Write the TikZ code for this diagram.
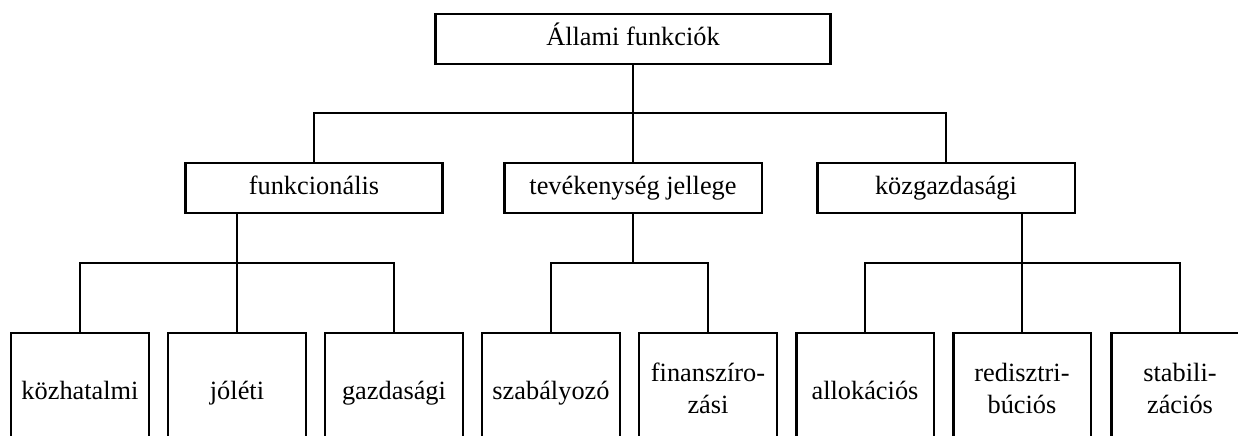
\documentclass[tikz,border=0pt]{standalone}
\usepackage{fontspec}
\setmainfont{Liberation Serif}
\usepackage{tikz}
\usetikzlibrary{positioning}

\begin{document}
\begin{tikzpicture}[x=0.02cm, y=-0.02cm,
    box/.style={draw, line width=1.4pt, inner sep=2pt, font=\fontsize{15}{18.7}\selectfont,
      execute at begin node=\strut, execute at end node=\strut},
    topbox/.style={box, minimum width=7.9cm, minimum height=1cm},
    midbox/.style={box, minimum width=5.15cm, minimum height=1cm},
    leaf/.style={box, anchor=north, align=center, minimum width=2.75cm, minimum height=2.4cm},
    conn/.style={line width=0.6pt}]
    \useasboundingbox (0,0) rectangle (1238,436);
    \clip (0,0) rectangle (1238,436);
    % levels
    \node[topbox] (all) at (633,39)  {Állami funkciók};
    \node[midbox] (fun) at (314,188) {funkcionális};
    \node[midbox] (tev) at (633,188) {tevékenység jellege};
    \node[midbox] (kgz) at (946,188) {közgazdasági};
    % leaves
    \node[leaf] (koz) at (80,332)   {közhatalmi};
    \node[leaf] (jol) at (237,332)  {jóléti};
    \node[leaf] (gaz) at (394,332)  {gazdasági};
    \node[leaf] (sza) at (551,332)  {szabályozó};
    \node[leaf] (fin) at (708,332)  {finanszíro-\\zási};
    \node[leaf] (alo) at (865,332)  {allokációs};
    \node[leaf] (red) at (1022,332) {redisztri-\\búciós};
    \node[leaf] (sta) at (1180,332) {stabili-\\zációs};
    % junctions
    \coordinate (bar0) at (633,113);
    \coordinate (bar1) at (237,263);
    \coordinate (bar2) at (633,263);
    \coordinate (bar3) at (1022,263);
    \draw[conn] (all) -- (bar0);
    \draw[conn] (fun.north) |- (bar0) -| (kgz.north);
    \draw[conn] (bar0) -- (tev.north);
    \draw[conn] (fun.south -| bar1) -- (bar1) -- (jol.north);
    \draw[conn] (koz.north) |- (bar1) -| (gaz.north);
    \draw[conn] (tev.south) -- (bar2);
    \draw[conn] (sza.north) |- (bar2) -| (fin.north);
    \draw[conn] (kgz.south -| bar3) -- (bar3) -- (red.north);
    \draw[conn] (alo.north) |- (bar3) -| (sta.north);
\end{tikzpicture}
\end{document}
